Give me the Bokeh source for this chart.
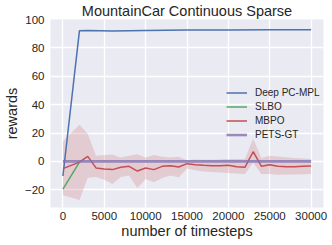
from bokeh.plotting import figure
from bokeh.models import Legend, LegendItem, FixedTicker, CustomJSTickFormatter, Range1d
from bokeh.embed import file_html
from bokeh.resources import INLINE

# ---- data ----
title_text = "MountainCar Continuous Sparse"
x_label = "number of timesteps"
y_label = "rewards"

x_ticks = [0, 5000, 10000, 15000, 20000, 25000, 30000]
y_ticks = [-20, 0, 20, 40, 60, 80, 100]

deep_x = [0, 2000, 3000, 6000, 10000, 15000, 20000, 25000, 30000]
deep_y = [-10.3, 92.1, 92.2, 91.9, 92.3, 92.6, 92.6, 92.7, 92.7]

slbo_x = [0, 2000]
slbo_y = [-19.6, -0.5]

mbpo_x = [0, 1000, 2000, 3000, 4000, 5000, 6000, 7000, 8000, 9000,
          10000, 11000, 12000, 13000, 14000, 15000, 16000, 17000, 18000, 19000,
          20000, 21000, 22000, 23000, 24000, 25000, 26000, 27000, 28000, 29000, 30000]
mbpo_mean = [-5.1, -2.8, -0.5, 3.5, -4.6, -5.3, -5.8, -4.2, -3.5, -6.8,
             -4.7, -5.8, -3.5, -3.0, -4.0, -1.6, -2.4, -2.8, -3.0, -3.0,
             -2.8, -3.7, -4.2, 6.8, -3.5, -2.3, -3.5, -3.7, -3.7, -3.5, -3.3]
mbpo_upper = [14.0, 20.0, 25.8, 19.4, 4.0, 4.5, 4.7, 2.8, 4.0, 5.0,
              2.8, 4.5, 3.3, 2.8, 3.3, 0.8, 1.4, 1.2, 1.2, 1.4,
              1.6, 1.6, 1.6, 16.0, 2.4, 4.0, 3.5, 3.0, 2.4, 2.0, 1.6]
mbpo_lower = [-23.8, -25.5, -27.3, -11.6, -11.0, -13.0, -16.0, -11.0, -10.0, -18.7,
              -12.4, -14.7, -11.7, -10.0, -11.2, -5.0, -6.2, -7.2, -7.5, -7.8,
              -8.2, -8.6, -8.9, -0.7, -8.9, -8.9, -9.4, -9.2, -9.2, -9.0, -8.9]

pets_x = [0, 30000]
pets_y = [0.0, 0.0]

series_names = ["Deep PC-MPL", "SLBO", "MBPO", "PETS-GT"]
colors = ["#4C72B0", "#55A868", "#C44E52", "#8172B2"]

FONT = "Liberation Sans"
TXT = "#262626"

p = figure(width=332, height=245, output_backend="svg", toolbar_location=None,
           x_range=Range1d(-1500, 31500), y_range=Range1d(-32.5, 100),
           min_border_left=46, min_border_right=9, min_border_top=19, min_border_bottom=38,
           title=title_text, x_axis_label=x_label, y_axis_label=y_label)
p.background_fill_color = "#EAEAF2"
p.border_fill_color = "white"
p.outline_line_color = None

p.title.text_font = FONT
p.title.text_font_size = "14.5px"
p.title.text_font_style = "normal"
p.title.text_color = TXT
p.title.align = "center"
p.title.standoff = 1

for ax in (p.xaxis[0], p.yaxis[0]):
    ax.axis_line_color = None
    ax.major_tick_line_color = None
    ax.minor_tick_line_color = None
    ax.major_tick_out = 0
    ax.major_tick_in = 0
    ax.minor_tick_out = 0
    ax.major_label_text_font = FONT
    ax.major_label_text_font_size = "11.5px"
    ax.major_label_text_color = TXT
    ax.axis_label_text_font = FONT
    ax.axis_label_text_font_size = "14.5px"
    ax.axis_label_text_font_style = "normal"
    ax.axis_label_text_color = TXT
p.xaxis[0].ticker = FixedTicker(ticks=x_ticks)
p.yaxis[0].ticker = FixedTicker(ticks=y_ticks)
p.xaxis[0].major_label_standoff = 4
p.yaxis[0].major_label_standoff = 6
p.xaxis[0].axis_label_standoff = 0
p.yaxis[0].axis_label_standoff = 2
p.yaxis[0].formatter = CustomJSTickFormatter(code="return String(tick).replace('-', '\\u2212');")
p.xaxis[0].formatter = CustomJSTickFormatter(code="return String(tick);")

p.xgrid.ticker = FixedTicker(ticks=x_ticks)
p.ygrid.ticker = FixedTicker(ticks=y_ticks)
for g in (p.xgrid[0], p.ygrid[0]):
    g.grid_line_color = "white"
    g.grid_line_width = 1.3

p.varea(x=mbpo_x, y1=mbpo_lower, y2=mbpo_upper, fill_color=colors[2], fill_alpha=0.2)

r_deep = p.line(deep_x, deep_y, line_color=colors[0], line_width=1.5)
r_slbo = p.line(slbo_x, slbo_y, line_color=colors[1], line_width=1.5)
r_mbpo = p.line(mbpo_x, mbpo_mean, line_color=colors[2], line_width=1.5)
r_pets = p.line(pets_x, pets_y, line_color=colors[3], line_width=2.6, line_alpha=0.8)

legend = Legend(items=[LegendItem(label=n, renderers=[r]) for n, r in
                       zip(series_names, [r_deep, r_slbo, r_mbpo, r_pets])],
                location=(176, 66), orientation="vertical")
legend.background_fill_alpha = 0
legend.border_line_alpha = 0
legend.padding = 0
legend.margin = 0
legend.spacing = 1
legend.glyph_width = 21
legend.glyph_height = 13
legend.label_height = 13
legend.label_standoff = 8
legend.label_text_font = FONT
legend.label_text_font_size = "10px"
legend.label_text_color = TXT
legend.label_text_baseline = "middle"
p.add_layout(legend)

open("out.html", "w").write(file_html(p, INLINE))
